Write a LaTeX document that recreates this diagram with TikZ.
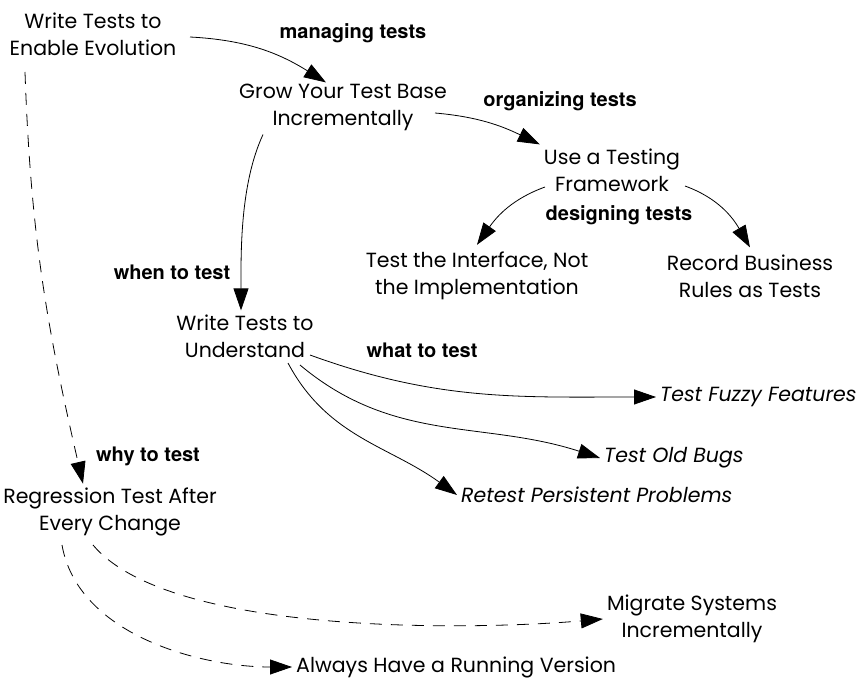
\documentclass[tikz,border=0pt]{standalone}
\usepackage{fontspec}
\setmainfont{Poppins}
\newfontfamily\tagfont{TeX Gyre Heros}
\usetikzlibrary{arrows.meta}

\begin{document}
\begin{tikzpicture}[x=1pt,y=-1pt,
	topic/.style={align=center,font=\fontsize{20.5}{27}\selectfont,inner sep=4pt},
	side/.style={anchor=west,font=\fontsize{20.5}{27}\selectfont\itshape,inner sep=4pt},
	tag/.style={font=\fontsize{20}{24}\selectfont\tagfont\bfseries},
	link/.style={line width=0.8pt,-{Triangle[length=22pt,width=15pt]}},
	weak/.style={link,dash pattern=on 12pt off 9pt}]
\useasboundingbox (0,0) rectangle (860,682);
\node [topic] (evol) at (93,34) {Write Tests to\\Enable Evolution};
\node [topic] (grow) at (343,107) {Grow Your Test Base\\Incrementally};
\node [topic] (frame) at (612,170) {Use a Testing\\Framework};
\node [topic] (iface) at (477,276) {Test the Interface, Not\\the Implementation};
\node [topic] (rules) at (750,276) {Record Business\\Rules as Tests};
\node [topic] (under) at (245,336) {Write Tests to\\Understand};
\node [side] (fuzzy) at (656,397) {Test Fuzzy Features};
\node [side] (bugs) at (600,458) {Test Old Bugs};
\node [side] (retest) at (457,495) {Retest Persistent Problems};
\node [topic] (regr) at (110,512) {Regression Test After\\Every Change};
\node [topic] (migr) at (692,619) {Migrate Systems\\Incrementally};
\node [topic,anchor=west] (always) at (292,667) {Always Have a Running Version};
% labels of the links
\node [tag] (managing) at (353,33) {managing tests};
\node [tag] (organizing) at (560,101) {organizing tests};
\node [tag] (designing) at (619,215) {designing tests};
\node [tag] (when) at (172,272) {when to test};
\node [tag] (what) at (422,350) {what to test};
\node [tag] (why) at (148,456) {why to test};
% links
\draw [link] ([xshift=97pt,yshift=-3pt]evol.center) to[out=-3,in=148] ([xshift=-17pt,yshift=-3pt]grow.north);
\draw [link] ([xshift=92pt,yshift=-6pt]grow.center) to[out=-5,in=154] (frame.north west);
\draw [link] ([xshift=-67pt,yshift=-17pt]frame.center) to[out=200,in=55] ([yshift=3pt]iface.north);
\draw [link] ([xshift=73pt,yshift=-16pt]frame.center) to[out=-20,in=120] ([yshift=3pt]rules.north);
\draw [link] ([xshift=-80pt]grow.south) to[out=-115,in=90,looseness=0.8] ([xshift=-4pt]under.north);
\draw [link] ([xshift=65pt,yshift=-19pt]under.center) to[out=-20,in=180] (fuzzy.west);
\draw [link] ([xshift=55pt,yshift=-29pt]under.center) to[out=-40,in=162] (bugs.west);
\draw [link] ([xshift=43pt,yshift=-27pt]under.center) to[out=-62,in=144] (retest.west);
\draw [weak] ([xshift=-68pt,yshift=-38pt]evol.center) to[out=-88,in=103] ([xshift=-27pt]regr.north);
\draw [weak] ([xshift=-17pt,yshift=-33pt]regr.center) to[out=-50,in=185,looseness=0.6] (migr.west);
\draw [weak] ([xshift=-48pt,yshift=-33pt]regr.center) to[out=-80,in=180,looseness=0.9] (always.west);
\end{tikzpicture}
\end{document}
